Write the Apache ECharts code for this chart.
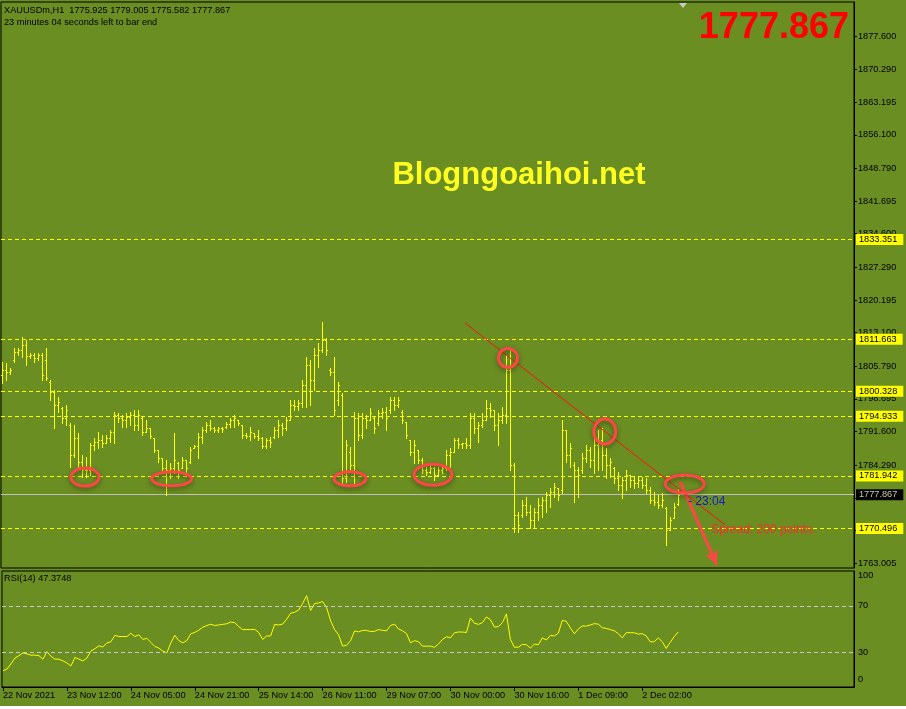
<!DOCTYPE html>
<html><head><meta charset="utf-8">
<script src="https://cdn.jsdelivr.net/npm/echarts@6/dist/echarts.min.js"></script>
<style>html,body{margin:0;padding:0;background:#6b8e23;}#c{width:906px;height:709px;}</style>
</head><body><div id="c"></div>
<script>
// ---------- DATA ----------
const barOpen = [
1803.9,1805.0,1804.6,1807.2,1808.9,1809.3,1810.4,1808.0,1808.3,1807.6,
1808.3,1807.2,1802.4,1800.2,1797.4,1796.7,1794.6,1793.0,1786.5,1790.2,
1785.0,1783.3,1783.3,1788.7,1789.3,1789.8,1789.1,1790.2,1791.5,1795.2,
1794.6,1794.1,1794.8,1795.2,1793.0,1794.6,1791.5,1792.4,1790.2,1787.6,
1785.9,1783.7,1783.3,1783.7,1784.8,1783.7,1785.4,1785.0,1788.0,1788.5,
1790.4,1792.0,1793.0,1792.4,1792.0,1792.4,1792.6,1793.2,1794.1,1794.1,
1793.0,1790.9,1790.6,1791.3,1790.6,1790.2,1788.5,1789.8,1790.4,1792.0,
1793.0,1792.4,1794.1,1797.4,1797.2,1797.8,1801.7,1806.1,1802.8,1808.3,
1809.3,1811.5,1805.0,1804.6,1798.5,1799.6,1781.5,1787.2,1784.3,1794.6,
1790.9,1794.6,1794.1,1794.6,1793.5,1795.6,1795.9,1796.3,1798.5,1797.4,
1795.9,1793.7,1789.8,1787.2,1787.6,1785.4,1783.3,1782.8,1783.7,1782.2,
1783.3,1783.7,1786.5,1787.2,1789.8,1788.9,1789.1,1788.7,1794.6,1792.4,
1793.0,1794.1,1796.7,1796.3,1793.0,1794.1,1795.2,1805.0,1784.3,1773.5,
1773.5,1775.6,1774.1,1772.4,1774.1,1775.6,1776.7,1777.8,1778.5,1779.3,
1778.9,1791.9,1786.5,1784.3,1783.3,1783.3,1785.9,1787.6,1785.4,1788.7,
1789.8,1786.5,1784.3,1783.7,1781.5,1780.0,1781.1,1782.2,1781.1,1780.4,
1781.1,1780.0,1778.9,1776.7,1776.3,1775.6,1775.0,1770.2,1772.8,1775.925];
const barHigh = [
1806.7,1806.5,1805.4,1809.8,1809.8,1812.2,1811.5,1808.7,1808.7,1808.7,
1808.7,1809.8,1802.8,1800.6,1799.1,1796.9,1797.4,1793.5,1793.0,1791.3,
1786.5,1786.1,1789.1,1790.2,1791.5,1790.9,1790.9,1792.0,1795.9,1795.6,
1795.2,1795.6,1795.9,1796.3,1796.3,1794.8,1794.1,1792.4,1790.2,1787.6,
1785.9,1785.4,1784.8,1791.3,1785.0,1786.1,1785.4,1788.3,1788.7,1791.3,
1792.6,1793.7,1794.1,1792.6,1792.6,1792.6,1793.7,1794.6,1795.2,1794.1,
1793.0,1791.3,1792.6,1791.3,1792.0,1790.4,1790.2,1790.4,1792.6,1794.1,
1793.5,1794.8,1798.5,1798.5,1798.5,1802.8,1807.8,1807.2,1809.8,1810.9,
1815.4,1811.9,1805.4,1807.8,1802.4,1800.0,1789.8,1788.3,1795.9,1795.6,
1795.6,1795.2,1796.7,1794.8,1796.3,1796.7,1796.9,1799.1,1799.1,1799.1,
1796.3,1793.7,1789.8,1789.8,1787.6,1785.9,1783.9,1784.3,1783.9,1783.9,
1783.9,1787.6,1788.0,1790.2,1790.2,1789.1,1790.2,1795.6,1795.6,1793.7,
1795.6,1798.5,1797.8,1796.3,1795.6,1796.9,1808.3,1809.3,1784.8,1774.1,
1776.7,1777.4,1775.6,1775.0,1777.2,1777.4,1778.5,1779.3,1780.4,1779.3,
1794.1,1791.9,1789.1,1785.0,1783.9,1786.9,1788.7,1788.3,1790.4,1791.9,
1792.4,1788.0,1785.9,1783.9,1782.8,1781.7,1783.3,1782.2,1781.7,1781.7,
1781.7,1781.5,1779.5,1778.5,1777.8,1778.3,1775.2,1773.0,1776.1,1779.005];
const barLow = [
1802.2,1802.8,1804.1,1806.7,1808.3,1807.8,1806.1,1807.6,1806.7,1807.2,
1802.8,1802.8,1798.5,1792.4,1795.9,1793.5,1793.0,1783.9,1786.1,1783.9,
1781.7,1781.7,1782.2,1787.6,1788.0,1788.3,1789.1,1789.3,1789.1,1793.7,
1792.6,1792.6,1793.0,1792.0,1792.0,1790.9,1791.5,1790.2,1787.2,1785.0,
1783.3,1777.8,1781.5,1782.6,1781.5,1783.7,1782.6,1784.8,1788.0,1785.9,
1789.1,1791.5,1792.0,1791.5,1791.5,1791.5,1792.4,1792.6,1792.6,1793.0,
1790.2,1790.2,1789.8,1790.2,1789.8,1788.0,1788.0,1788.3,1790.2,1790.4,
1790.9,1792.0,1794.1,1796.3,1796.3,1796.9,1796.9,1797.4,1800.6,1805.6,
1808.9,1808.3,1803.9,1795.2,1797.4,1780.4,1780.7,1783.3,1780.4,1789.8,
1790.2,1792.4,1794.1,1791.3,1793.0,1794.6,1791.9,1795.6,1796.3,1796.9,
1793.5,1790.2,1786.5,1784.8,1784.8,1782.6,1782.2,1782.6,1781.1,1782.2,
1782.6,1783.3,1783.9,1787.2,1788.0,1788.0,1788.0,1788.0,1791.3,1789.3,
1792.6,1794.1,1794.8,1792.0,1788.7,1793.5,1793.5,1783.3,1769.8,1769.8,
1773.0,1773.5,1770.6,1770.6,1772.4,1773.0,1774.1,1775.2,1777.4,1776.7,
1778.3,1785.0,1783.9,1776.3,1777.4,1782.6,1785.0,1783.9,1782.6,1783.3,
1783.3,1781.5,1781.7,1780.4,1778.9,1777.2,1778.9,1779.5,1779.3,1779.5,
1779.3,1778.3,1776.1,1775.6,1775.0,1775.2,1766.9,1770.2,1772.8,1775.582];
const barClose = [
1805.0,1804.6,1805.0,1808.9,1809.3,1810.4,1808.0,1808.3,1807.6,1808.3,
1803.9,1803.2,1800.2,1797.4,1798.0,1794.6,1796.3,1786.5,1790.2,1785.0,
1783.3,1783.3,1788.7,1789.3,1789.8,1789.1,1790.2,1791.5,1795.2,1794.6,
1794.1,1794.8,1795.2,1793.0,1795.2,1791.5,1792.4,1790.6,1787.6,1785.9,
1783.7,1783.3,1783.7,1785.4,1783.3,1785.4,1783.7,1787.6,1788.5,1790.4,
1792.0,1793.0,1792.4,1792.0,1792.4,1792.2,1793.2,1794.1,1794.6,1793.5,
1790.9,1790.6,1791.5,1790.6,1790.2,1788.5,1789.8,1789.3,1792.0,1793.0,
1792.4,1794.1,1797.4,1797.2,1797.8,1801.7,1806.1,1802.8,1808.3,1809.3,
1811.5,1809.3,1804.6,1796.3,1801.7,1781.5,1788.7,1784.3,1794.6,1790.9,
1794.6,1794.1,1795.6,1792.4,1795.6,1795.9,1794.6,1798.5,1797.4,1798.5,
1794.1,1790.9,1787.2,1788.7,1785.4,1783.3,1782.8,1783.7,1782.2,1783.3,
1783.7,1786.5,1787.2,1789.8,1788.9,1789.1,1788.7,1794.6,1792.4,1793.0,
1794.1,1796.7,1796.3,1793.0,1794.1,1795.2,1805.0,1784.3,1773.5,1771.3,
1775.6,1774.1,1772.4,1774.1,1775.6,1776.7,1777.8,1778.5,1779.5,1777.8,
1791.9,1786.5,1788.0,1783.3,1782.2,1785.9,1787.6,1785.4,1788.7,1789.8,
1786.5,1784.3,1785.0,1781.5,1780.0,1781.1,1782.2,1781.1,1780.4,1781.1,
1780.0,1778.9,1776.7,1776.3,1775.6,1776.7,1770.2,1772.4,1775.2,1777.867];
const rsiValues = [
14,15.5,20,25,27,29.4,28.5,27.5,27.5,27,
24,30.5,26.5,24,24,22.5,20.7,18,25.5,24,
22.5,25,31,33,35.5,34.5,38,39,44.5,43.5,
43.5,43.5,46.3,43.5,45,41,42,38.5,35,33.5,
31,29.4,38,44.5,40,38.1,40,45.9,47,49,
51.5,53,54.1,53,53.5,54,54.5,56,55.5,52,
49.5,49.5,49.5,49.7,47,41,44,44,54,53.5,
54.2,58.5,63.6,64.5,66.3,72,78.7,66,72,72.5,
73.7,68.5,57,49.5,45,35.2,36,40,48.3,47.5,
48.8,48.8,47.8,48,49.5,48.8,48.5,53,54.2,50,
48.5,46,38.1,40,39,35.2,35.2,35.2,34.3,37,
41,43.3,42.4,46.8,47.4,47.4,47,59.5,55,54,
55.5,60.4,58,51.7,52,55.5,63,41,34.3,34.3,
36.7,36.5,33.5,37,36.5,42.4,40.5,44.5,44,46.5,
57.5,56.5,51,45.9,50,52.6,52.5,53.5,54.6,54.2,
51.1,50.5,49.5,48.5,46,42.4,46.8,46.8,46.8,45.6,
46,44,39,39,42.4,39,33.2,38.5,43.5,47.37];
const xTickIndex = [0,16,32,48,64,80,96,112,128,144,160];
const xTickLabels = ["22 Nov 2021","23 Nov 12:00","24 Nov 05:00","24 Nov 21:00","25 Nov 14:00","26 Nov 11:00","29 Nov 07:00","30 Nov 00:00","30 Nov 16:00","1 Dec 09:00","2 Dec 02:00"];
const priceTicks = [1877.600,1870.290,1863.195,1856.100,1848.790,1841.695,1834.600,1827.290,1820.195,1813.100,1805.790,1798.695,1791.600,1784.290,1777.195,1770.100,1763.005];
const levelPrices = [1833.351,1811.663,1800.328,1794.933,1781.942,1770.496];
const bidPrice = 1777.867;
const rsiLevels = [70,30];
const rsiTicks = [100,70,30,0];
const headerLine1 = "XAUUSDm,H1  1775.925 1779.005 1775.582 1777.867";
const headerLine2 = "23 minutes 04 seconds left to bar end";
const rsiTitle = "RSI(14) 47.3748";
// annotations (bar index, price)
const ellipseCenters = [[20.75,1781.7],[42.4,1781.3],[87,1781.3],[107.75,1782.2],[126.5,1807.6],[150.7,1791.6],[170.7,1780.2]];
const trendLine = [[115.75,1815.2],[180.75,1771.3]];
const arrowLine = [[169.5,1780.7],[178.7,1762.6]];
const noteAnchors = [[171.5,1776.3],[177.3,1770.2]];
const noteTexts = ["- 23:04","Spread: 200 points."];

// ---------- STYLE ----------
const ellipseRadii = [[14,9],[20,7],[16,7],[19,10.5],[9.5,9.5],[11,12.5],[19.5,9]];
const noteColors = ['#1020c0','#ff2a2a'];
const FONT = "'Liberation Sans', Arial, sans-serif";
const FS = 9.2;
const GRID_L = 1, GRID_R = 52;

const chart = echarts.init(document.getElementById('c'), null, {renderer:'canvas'});
const r5 = v => Math.round(v) + 0.5;
const boxLabel = (txt, bg, fg) => ({show:true, position:'end', distance:2, formatter:()=>txt,
  backgroundColor:bg, color:fg, padding:[1,6,0,3], lineHeight:10, fontFamily:FONT, fontSize:FS});

const option = {
  animation:false,
  backgroundColor:'#6b8e23',
  grid:[
    {left:GRID_L, right:GRID_R, top:2, height:566, show:true, borderColor:'#000', borderWidth:1, backgroundColor:'transparent'},
    {left:GRID_L, right:GRID_R, top:571, height:116, show:true, borderColor:'#000', borderWidth:1, backgroundColor:'transparent'}
  ],
  xAxis:[
    {type:'value', gridIndex:0, min:-0.25, max:213, show:false},
    {type:'value', gridIndex:1, min:-0.25, max:213,
      axisLine:{show:true, onZero:false, lineStyle:{color:'#000'}},
      axisTick:{show:true, customValues:xTickIndex, length:4, lineStyle:{color:'#000'}},
      axisLabel:{show:true, customValues:xTickIndex, align:'left', margin:4, color:'#000', fontFamily:FONT, fontSize:FS,
        formatter:v => xTickLabels[xTickIndex.indexOf(Math.round(v))] || ''},
      splitLine:{show:false}}
  ],
  yAxis:[
    {type:'value', gridIndex:0, position:'right', min:1761.92, max:1884.99, scale:true,
      axisLine:{show:true, onZero:false, lineStyle:{color:'#000'}},
      axisTick:{show:true, customValues:priceTicks, length:3, lineStyle:{color:'#000'}},
      axisLabel:{show:true, customValues:priceTicks, margin:4, color:'#000', fontFamily:FONT, fontSize:FS, formatter:v=>v.toFixed(3)},
      splitLine:{show:false}},
    {type:'value', gridIndex:1, position:'right', min:0, max:100,
      axisLine:{show:true, onZero:false, lineStyle:{color:'#000'}},
      axisTick:{show:false},
      axisLabel:{show:true, customValues:[96.5,70,30,6.9], margin:4, color:'#000', fontFamily:FONT, fontSize:FS,
        formatter:v => v>90 ? String(rsiTicks[0]) : (v<10 ? String(rsiTicks[3]) : String(Math.round(v)))},
      splitLine:{show:false}}
  ],
  series:[
    {
      type:'custom', name:'bars', xAxisIndex:0, yAxisIndex:0, clip:true, z:3,
      data: barOpen.map((o,i)=>[i,o,barHigh[i],barLow[i],barClose[i]]),
      encode:{x:0, y:[1,2,3,4]},
      renderItem:(params, api) => {
        const x = api.value(0);
        const pO = api.coord([x, api.value(1)]), pH = api.coord([x, api.value(2)]);
        const pL = api.coord([x, api.value(3)]), pC = api.coord([x, api.value(4)]);
        const cx = r5(pH[0]);
        const st = {stroke:'#ffff00', lineWidth:1};
        return {type:'group', children:[
          {type:'line', shape:{x1:cx, y1:Math.round(pH[1]), x2:cx, y2:Math.round(pL[1])+1}, style:st},
          {type:'line', shape:{x1:cx-1.5, y1:r5(pO[1]), x2:cx-0.5, y2:r5(pO[1])}, style:st},
          {type:'line', shape:{x1:cx+0.5, y1:r5(pC[1]), x2:cx+1.5, y2:r5(pC[1])}, style:st}
        ]};
      },
      markLine:{
        silent:true, symbol:['none','none'], animation:false, z:2,
        data: levelPrices.map(v => ({yAxis:v,
            lineStyle:{color:'#ffff00', type:[4,3], width:1},
            label:boxLabel(v.toFixed(3), '#ffff00', '#000')}))
          .concat([{yAxis:bidPrice,
            lineStyle:{color:'#c0c0c0', type:'solid', width:1},
            label:boxLabel(bidPrice.toFixed(3), '#000', '#c8c8a8')}])
      }
    },
    {
      type:'custom', name:'ellipses', xAxisIndex:0, yAxisIndex:0, clip:false, z:5,
      data: ellipseCenters,
      encode:{x:0, y:1},
      renderItem:(params, api) => {
        const p = api.coord([api.value(0), api.value(1)]);
        const rr = ellipseRadii[params.dataIndex];
        return {type:'ellipse', shape:{cx:p[0], cy:p[1], rx:rr[0], ry:rr[1]},
          style:{fill:null, stroke:'#ff4646', lineWidth:3, shadowBlur:5, shadowColor:'rgba(30,40,0,0.55)', shadowOffsetY:2}};
      },
      markLine:{
        silent:true, animation:false,
        data:[
          [{coord:trendLine[0], symbol:'none', lineStyle:{color:'#ff1010', width:1, type:'solid'}}, {coord:trendLine[1], symbol:'none'}],
          [{coord:arrowLine[0], symbol:'none', lineStyle:{color:'#ff4646', width:3, type:'solid'}}, {coord:arrowLine[1], symbol:'arrow', symbolSize:[10,14]}]
        ],
        label:{show:false}
      }
    },
    {
      type:'custom', name:'notes', xAxisIndex:0, yAxisIndex:0, clip:false, z:6,
      data: noteAnchors, encode:{x:0, y:1},
      renderItem:(params, api) => {
        const p = api.coord([api.value(0), api.value(1)]);
        return {type:'text', x:p[0], y:p[1], style:{text:noteTexts[params.dataIndex], fill:noteColors[params.dataIndex],
          font:"12px 'Liberation Sans', sans-serif", align:'left', verticalAlign:'middle', textAlign:'left', textVerticalAlign:'middle'}};
      }
    },
    {
      type:'line', name:'RSI', xAxisIndex:1, yAxisIndex:1, z:3,
      data: rsiValues.map((v,i)=>[i,v]),
      showSymbol:false, symbol:'none', smooth:false,
      lineStyle:{color:'#ffff00', width:1},
      markLine:{silent:true, symbol:['none','none'], animation:false, label:{show:false},
        data: rsiLevels.map(v=>({yAxis:v, lineStyle:{color:'#c8c8c8', type:[4,3], width:1}}))}
    }
  ],
  graphic:[
    {type:'text', left:4, top:6, style:{text:headerLine1, fill:'#000', font:FS+"px "+FONT}},
    {type:'text', left:4, top:18, style:{text:headerLine2, fill:'#000', font:FS+"px "+FONT}},
    {type:'text', left:4, top:574, style:{text:rsiTitle, fill:'#000', font:FS+"px "+FONT}},
    {type:'text', right:57, top:10, style:{text:bidPrice.toFixed(3), fill:'#ff0000', font:"bold 36px 'Liberation Sans', Arial, sans-serif"}},
    {type:'text', x:519, y:175, style:{text:'Blogngoaihoi.net', fill:'#ffff20', font:"bold 31px 'Liberation Sans', Arial, sans-serif", align:'center', verticalAlign:'middle', textAlign:'center', textVerticalAlign:'middle'}},
    {type:'polygon', shape:{points:[[679,3],[687,3],[683,8]]}, style:{fill:'#c8c8c8'}},
    {type:'rect', shape:{x:0, y:706, width:906, height:3}, style:{fill:'#ffffff'}}
  ]
};
chart.setOption(option);
</script>
</body></html>
